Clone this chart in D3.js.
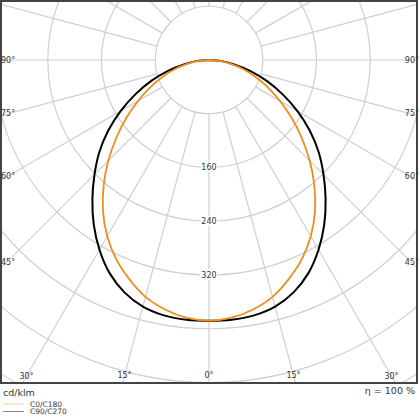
<!DOCTYPE html>
<html>
<head>
<meta charset="utf-8">
<script src="https://cdn.jsdelivr.net/npm/d3@7"></script>
<style>
  body { margin: 0; background: #fff; }
  text { font-family: "DejaVu Sans", sans-serif; fill: #333; }
</style>
</head>
<body>
<svg id="ldc" width="420" height="420"></svg>
<script>
// gamma angles, 0 = nadir
var angles = [0, 5, 10, 15, 20, 25, 30, 35, 40, 45, 50, 55, 60, 65, 70, 75, 80, 85, 90];
// cd/klm
var c0c180 = [388, 385, 377, 365, 347, 327, 303, 275, 244, 212, 180, 150, 122, 97, 74, 53, 33, 16, 0];
var c90c270 = [388, 388, 386, 380, 368, 350, 326, 299, 270, 241, 213, 183, 152, 121, 92, 64, 38, 19, 0];
var ringValues = [80, 160, 240, 320, 400, 480, 560];
var ringLabels = [160, 240, 320];
var spokeLabels = [90, 75, 60, 45, 30, 15, 0];

var svg = d3.select("#ldc");
var frame = {left: 1, top: 1, right: 417, bottom: 383};
var cx = 209, cy = 60;
var rScale = d3.scaleLinear().domain([0, 80]).range([0, 53.75]);

svg.append("clipPath").attr("id", "clip")
    .append("rect")
    .attr("x", frame.left).attr("y", frame.top)
    .attr("width", frame.right - frame.left).attr("height", frame.bottom - frame.top);

var grid = svg.append("g").attr("clip-path", "url(#clip)");
var g = grid.append("g").attr("transform", "translate(" + cx + "," + cy + ")");

// radial lines every 15 deg
for (var a = 0; a < 360; a += 15) {
    var rad = a * Math.PI / 180;
    var r0 = rScale(80), r1 = 700;
    g.append("line")
        .attr("x1", -Math.sin(rad) * r0).attr("y1", Math.cos(rad) * r0)
        .attr("x2", -Math.sin(rad) * r1).attr("y2", Math.cos(rad) * r1)
        .style("stroke", "#cfcfcf").style("stroke-width", 1.2);
}
g.selectAll(".ring")
    .data(ringValues)
    .enter()
    .append("circle")
    .attr("class", "ring")
    .attr("r", function (d) { return rScale(d); })
    .style("fill", "none")
    .style("stroke", "#cfcfcf")
    .style("stroke-width", 1.2);

// curves
function curvePoints(vals) {
    var pts = [];
    for (var i = vals.length - 1; i > 0; i--) pts.push({a: -angles[i], v: vals[i]});
    for (var j = 0; j < vals.length; j++) pts.push({a: angles[j], v: vals[j]});
    return pts;
}
var line = d3.lineRadial()
    .angle(function (d) { return Math.PI - d.a * Math.PI / 180; })
    .radius(function (d) { return rScale(d.v); })
    .curve(d3.curveCatmullRom);

g.append("path")
    .attr("d", line(curvePoints(c90c270)))
    .style("fill", "none").style("stroke", "#000").style("stroke-width", 2);
g.append("path")
    .attr("d", line(curvePoints(c0c180)))
    .style("fill", "none").style("stroke", "#f08c1a").style("stroke-width", 1.8);

// ring value labels
g.selectAll(".rlab")
    .data(ringLabels)
    .enter()
    .append("text")
    .attr("class", "rlab")
    .attr("x", 0)
    .attr("y", function (d) { return rScale(d); })
    .attr("dy", "0.35em")
    .attr("text-anchor", "middle")
    .style("font-size", "8px")
    .style("stroke", "#fff").style("stroke-width", 3).style("paint-order", "stroke")
    .text(function (d) { return d; });

// frame
svg.append("rect")
    .attr("x", frame.left).attr("y", frame.top)
    .attr("width", frame.right - frame.left).attr("height", frame.bottom - frame.top)
    .style("fill", "none").style("stroke", "#444").style("stroke-width", 2);

// angle labels where spokes meet the frame
spokeLabels.forEach(function (ang) {
    [-1, 1].forEach(function (side) {
        if (ang == 0 && side == 1) return;
        var rad = ang * Math.PI / 180;
        var dx = side * Math.sin(rad), dy = Math.cos(rad);
        var tx = dx < 0 ? (frame.left - cx) / dx : (dx > 0 ? (frame.right - cx) / dx : Infinity);
        var ty = dy > 0 ? (frame.bottom - cy) / dy : Infinity;
        var t = Math.min(tx, ty) - 8;
        var px = cx + dx * t, py = cy + dy * t;
        var anchor = "middle";
        if (tx < ty) {
            anchor = side < 0 ? "start" : "end";
            px = side < 0 ? 1 : 419;
        }
        svg.append("text")
            .attr("x", px).attr("y", py)
            .attr("dy", "0.35em")
            .attr("text-anchor", anchor)
            .style("font-size", "8px")
            .text(ang + "°");
    });
});

svg.append("text").attr("x", 3).attr("y", 393).attr("dy", "0.35em")
    .style("font-size", "9.5px").text("cd/klm");
svg.append("text").attr("x", 415).attr("y", 391).attr("dy", "0.35em")
    .attr("text-anchor", "end").style("font-size", "9.5px").text("η = 100 %");

// legend
var legend = [{name: "C0/C180", color: "#f7cf9c"}, {name: "C90/C270", color: "#888"}];
legend.forEach(function (d, i) {
    var y = 404 + i * 7.5;
    svg.append("line").attr("x1", 3).attr("x2", 24).attr("y1", y).attr("y2", y)
        .style("stroke", d.color).style("stroke-width", 1);
    svg.append("text").attr("x", 30).attr("y", y).attr("dy", "0.35em")
        .style("font-size", "7.5px").text(d.name);
});
</script>
</body>
</html>
